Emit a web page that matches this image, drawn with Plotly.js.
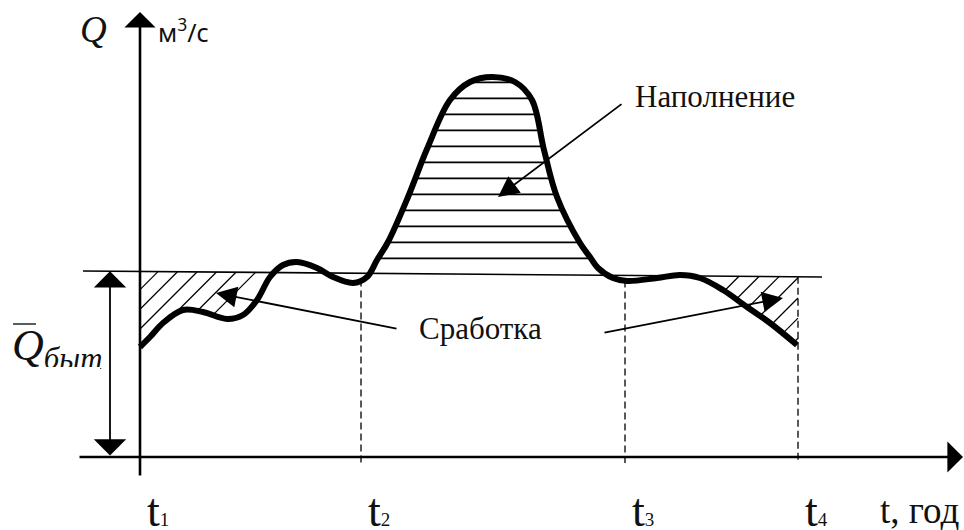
<!DOCTYPE html>
<html>
<head>
<meta charset="utf-8">
<script src="https://cdn.plot.ly/plotly-3.0.1.min.js"></script>
<style>
  html, body { margin: 0; padding: 0; background: #fff; }
  #chart { width: 964px; height: 530px; }
</style>
</head>
<body>
<div id="chart"></div>
<script>
// Hydrograph of river discharge Q over the year t (schematic units)
const flowT = [0, 10, 23, 43, 63, 87, 103, 117, 130, 143, 157, 177, 193, 213, 227, 237, 248,
               268, 287, 310, 330, 352, 375, 392, 404, 417, 440, 450, 458, 473, 487, 517, 540,
               560, 583, 607, 630, 657];
const flowQ = [110, 120, 134, 147, 145, 138, 142, 157, 180, 192, 195, 189, 180, 174, 180, 197, 215,
               260, 308, 357, 375, 380, 375, 357, 307, 260, 214, 200, 189, 179, 176, 179, 182,
               179, 167, 150, 134, 112];

// Mean household demand level  Q̄быт
const meanT = [-57, 682];
const meanQ = [186, 180];

// Period boundaries t1..t4
const periodT = [0, 221, 485, 658];
const periodNames = ['t', 't', 't', 't'];
const periodIndex = ['1', '2', '3', '4'];

const fillText = 'Наполнение';
const drawText = 'Сработка';
const axisQText = '<i>Q</i>';
const unitText = 'м<sup>3</sup>/с';
const axisTText = 't, год';
const meanText = '<i>Q</i><sub><i>быт</i></sub>';

const SERIF = 'Liberation Serif, Times New Roman, serif';
const INK = '#000';

function interp(xs, ys, x) {
  if (x <= xs[0]) return ys[0] + (x - xs[0]) * (ys[1] - ys[0]) / (xs[1] - xs[0]);
  for (let i = 0; i < xs.length - 1; i++) {
    if (x <= xs[i + 1]) {
      const f = (x - xs[i]) / (xs[i + 1] - xs[i]);
      return ys[i] + f * (ys[i + 1] - ys[i]);
    }
  }
  const n = xs.length - 1;
  return ys[n] + (x - xs[n]) * (ys[n] - ys[n - 1]) / (xs[n] - xs[n - 1]);
}
const flowAt = t => interp(flowT, flowQ, t);
const meanAt = t => interp(meanT, meanQ, t);

// --- horizontal hatching of the filling zone (between t2 and t3, above the mean level)
const fillX = [], fillY = [];
const fillBase = meanAt((periodT[1] + periodT[2]) / 2);
for (let k = 1; k < 40; k++) {
  const level = fillBase + 16 * k;
  const hits = [];
  for (let i = 0; i < flowT.length - 1; i++) {
    if (flowT[i] < periodT[1] || flowT[i + 1] > periodT[2]) continue;
    const a = flowQ[i] - level, b = flowQ[i + 1] - level;
    if (a === 0 && b === 0) continue;
    if (a * b <= 0) {
      const f = a / (a - b);
      hits.push(flowT[i] + f * (flowT[i + 1] - flowT[i]));
    }
  }
  if (hits.length < 2) break;
  fillX.push(hits[0], hits[hits.length - 1], null);
  fillY.push(level, level, null);
}

// --- diagonal hatching of the drawdown zones (below the mean level, above the flow)
function meanCross(d) {
  // t where the line t - Q = d meets the mean level
  let lo = -300, hi = 1200;
  for (let i = 0; i < 60; i++) {
    const mid = (lo + hi) / 2;
    if (mid - meanAt(mid) < d) lo = mid; else hi = mid;
  }
  return (lo + hi) / 2;
}
function flowMeanCross(tFrom, tTo) {
  for (let t = tFrom; t <= tTo; t += 0.25) {
    if (flowAt(t) >= meanAt(t)) return t;
  }
  return tTo;
}
function diagonalHatch(tMin, tMax, firstTop, step) {
  const xs = [], ys = [];
  for (let k = 0; k < 30; k++) {
    const top = firstTop + step * k;
    const d = top - meanAt(top);
    let tTop = meanCross(d);
    if (tTop > tMax) tTop = tMax;
    if (tTop - d < flowAt(tTop)) break;
    let t = tTop;
    while (t > tMin && (t - d) > flowAt(t)) t -= 0.25;
    if (t < tMin) t = tMin;
    if (tTop - t < 1) continue;
    xs.push(tTop, t, null);
    ys.push(tTop - d, t - d, null);
  }
  return { xs, ys };
}
const leftEnd = flowMeanCross(periodT[0], periodT[1]);
const leftHatch = diagonalHatch(periodT[0], leftEnd, 18, 19.5);
const rightHatch = diagonalHatch(periodT[2] + 40, periodT[3], 599, 20);

// --- period boundary dashes (the last one closes the hatched zone up to the mean level)
const dashX = [], dashY = [];
for (let i = 1; i < periodT.length; i++) {
  const t = periodT[i];
  const top = (i === periodT.length - 1) ? meanAt(t) : flowAt(t);
  dashX.push(t, t, null);
  dashY.push(top, -6, null);
}

const thin = { color: INK, width: 1.3 };
const traces = [
  { x: fillX, y: fillY, mode: 'lines', line: { color: INK, width: 1.6 }, hoverinfo: 'skip' },
  { x: leftHatch.xs, y: leftHatch.ys, mode: 'lines', line: thin, hoverinfo: 'skip' },
  { x: rightHatch.xs, y: rightHatch.ys, mode: 'lines', line: thin, hoverinfo: 'skip' },
  { x: dashX, y: dashY, mode: 'lines', line: { color: INK, width: 1.3, dash: '7px,4px' }, hoverinfo: 'skip' },
  { x: meanT, y: meanQ, mode: 'lines', line: { color: INK, width: 1.6 }, hoverinfo: 'skip' },
  { x: flowT, y: flowQ, mode: 'lines', line: { color: INK, width: 6, shape: 'spline', smoothing: 1 },
    hoverinfo: 'skip' },
  { x: [-128], y: [108], mode: 'text', text: [meanText], textposition: 'middle right',
    textfont: { family: SERIF, size: 44, color: '#111' }, hoverinfo: 'skip', cliponaxis: false }
];

function arrowAnn(tailT, tailQ, headT, headQ, extra) {
  return Object.assign({
    x: headT, y: headQ, ax: tailT, ay: tailQ, xref: 'x', yref: 'y', axref: 'x', ayref: 'y',
    text: '', showarrow: true, arrowhead: 2, arrowsize: 2.3, arrowwidth: 1.8, arrowcolor: INK,
    standoff: 0, startstandoff: 0
  }, extra || {});
}
function textAnn(t, q, text, size, anchor, extra) {
  return Object.assign({
    x: t, y: q, xref: 'x', yref: 'y', text: text, showarrow: false,
    xanchor: anchor || 'center', yanchor: 'middle',
    font: { family: SERIF, size: size, color: '#111' }
  }, extra || {});
}

const annotations = [
  // axes
  arrowAnn(0, -20, 0, 445, { arrowhead: 1, arrowsize: 2.0, arrowwidth: 2.6 }),
  arrowAnn(-62, 0, 823, 0, { arrowhead: 1, arrowsize: 2.0, arrowwidth: 2.6 }),
  // mean level height marker
  arrowAnn(-30, 0, -30, meanAt(-30), { arrowside: 'end+start', arrowhead: 1, startarrowhead: 1,
    arrowsize: 3.0, startarrowsize: 3.0, arrowwidth: 1.8 }),
  // pointers
  arrowAnn(483, 354, 358, 260),
  arrowAnn(258, 128, 76, 164),
  arrowAnn(463, 124, 643, 159),
  // labels
  textAnn(575, 361, fillText, 31),
  textAnn(340, 129, drawText, 31),
  textAnn(-47, 428, axisQText, 37),
  textAnn(16, 427, unitText, 25, 'left', { font: { family: 'Noto Sans, Open Sans, sans-serif', size: 25, color: '#111' } }),
  textAnn(821, -53, axisTText, 37, 'right')
];
periodT.forEach((t, i) => annotations.push(textAnn(t + 5, -53,
  periodNames[i] + '<span style="font-size:19px">' + periodIndex[i] + '</span>', 46, 'left')));

const shapes = [
  // bar over Q
  { type: 'line', xref: 'x', yref: 'y', x0: -127, x1: -104, y0: 133, y1: 133,
    line: { color: '#333', width: 1.6 } },
  // lower edge of the Q̄быт caption
  { type: 'rect', xref: 'x', yref: 'y', x0: -140, x1: -40, y0: 8, y1: 90, layer: 'above',
    line: { width: 0 }, fillcolor: '#fff' }
];

const layout = {
  width: 964, height: 530,
  margin: { l: 0, r: 0, t: 0, b: 0 },
  paper_bgcolor: '#fff', plot_bgcolor: '#fff',
  showlegend: false,
  xaxis: { range: [-140, 824], visible: false, fixedrange: true },
  yaxis: { range: [-73, 457], visible: false, fixedrange: true },
  annotations: annotations,
  shapes: shapes
};

Plotly.newPlot('chart', traces, layout, { staticPlot: true, displayModeBar: false });
</script>
</body>
</html>
